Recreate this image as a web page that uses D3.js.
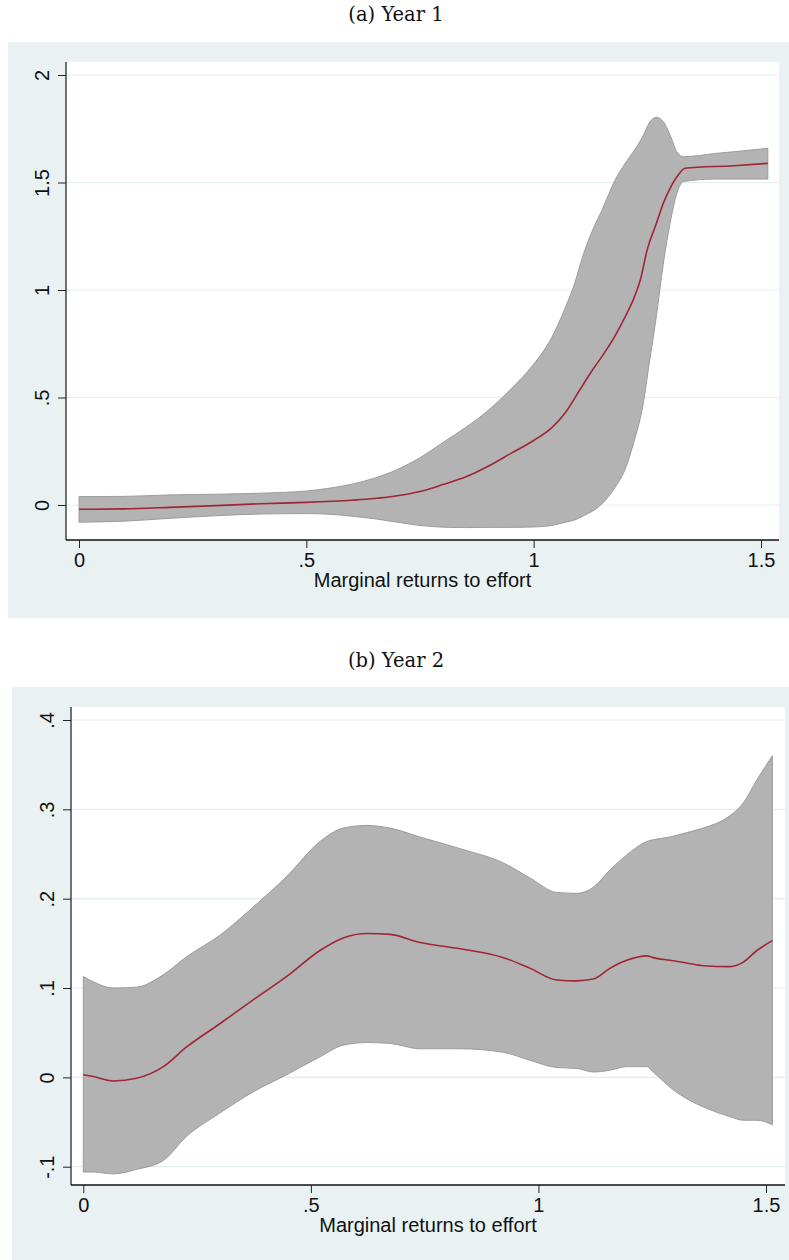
<!DOCTYPE html>
<html><head><meta charset="utf-8">
<script src="https://cdn.jsdelivr.net/npm/d3@7"></script>
<style>
html,body{margin:0;padding:0;background:#fff;}
svg{display:block;}
</style></head>
<body>
<script>
// ---- Panel (a) Year 1 ----
const titleA = "(a) Year 1";
const xBandA = [0, 0.1, 0.2, 0.3, 0.4, 0.5, 0.55, 0.6, 0.65, 0.7, 0.75, 0.8, 0.85, 0.9, 0.95, 1.0, 1.04, 1.07, 1.09, 1.11, 1.13, 1.15, 1.18, 1.2, 1.22, 1.24, 1.255, 1.27, 1.285, 1.3, 1.315, 1.33, 1.4, 1.45, 1.515];
const upperA = [0.039, 0.040, 0.047, 0.050, 0.055, 0.065, 0.078, 0.097, 0.125, 0.165, 0.22, 0.29, 0.36, 0.44, 0.54, 0.655, 0.78, 0.92, 1.03, 1.17, 1.28, 1.37, 1.515, 1.585, 1.645, 1.715, 1.78, 1.803, 1.783, 1.721, 1.643, 1.62, 1.635, 1.645, 1.659];
const lowerA = [-0.08, -0.075, -0.062, -0.05, -0.042, -0.04, -0.043, -0.052, -0.064, -0.08, -0.095, -0.103, -0.105, -0.104, -0.104, -0.102, -0.095, -0.08, -0.07, -0.05, -0.028, 0.005, 0.085, 0.16, 0.29, 0.46, 0.67, 0.88, 1.12, 1.31, 1.45, 1.505, 1.516, 1.516, 1.516];
const xFitA = [0, 0.1, 0.2, 0.3, 0.4, 0.5, 0.6, 0.65, 0.7, 0.75, 0.78, 0.8, 0.85, 0.9, 0.95, 1.0, 1.04, 1.07, 1.1, 1.13, 1.15, 1.18, 1.2, 1.22, 1.235, 1.25, 1.27, 1.285, 1.3, 1.318, 1.333, 1.44, 1.515];
const fitA = [-0.02, -0.018, -0.011, -0.003, 0.006, 0.012, 0.022, 0.03, 0.043, 0.063, 0.08, 0.095, 0.13, 0.18, 0.24, 0.30, 0.36, 0.43, 0.53, 0.63, 0.69, 0.79, 0.87, 0.96, 1.05, 1.19, 1.31, 1.403, 1.473, 1.535, 1.566, 1.578, 1.589];
const yTicksA = [0, 0.5, 1, 1.5, 2];
const yTickLabelsA = ["0", ".5", "1", "1.5", "2"];

// ---- Panel (b) Year 2 ----
const titleB = "(b) Year 2";
const xBandB = [0, 0.022, 0.066, 0.117, 0.176, 0.227, 0.3, 0.374, 0.447, 0.52, 0.571, 0.623, 0.674, 0.74, 0.828, 0.923, 0.982, 1.04, 1.084, 1.121, 1.157, 1.194, 1.238, 1.252, 1.289, 1.326, 1.362, 1.421, 1.45, 1.48, 1.514];
const upperB = [0.113, 0.107, 0.100, 0.101, 0.115, 0.135, 0.159, 0.191, 0.225, 0.264, 0.279, 0.282, 0.279, 0.269, 0.256, 0.24, 0.223, 0.207, 0.206, 0.213, 0.232, 0.249, 0.264, 0.266, 0.269, 0.274, 0.279, 0.293, 0.307, 0.333, 0.36];
const lowerB = [-0.106, -0.106, -0.108, -0.103, -0.093, -0.066, -0.04, -0.016, 0.003, 0.023, 0.036, 0.039, 0.038, 0.032, 0.032, 0.028, 0.019, 0.011, 0.01, 0.006, 0.008, 0.012, 0.012, 0.006, -0.011, -0.024, -0.033, -0.044, -0.048, -0.048, -0.053];
const fitB = [0.003, 0.001, -0.004, -0.001, 0.012, 0.034, 0.06, 0.087, 0.113, 0.142, 0.156, 0.161, 0.16, 0.151, 0.144, 0.134, 0.122, 0.109, 0.108, 0.11, 0.122, 0.131, 0.136, 0.134, 0.131, 0.128, 0.125, 0.124, 0.129, 0.142, 0.153];
const yTicksB = [-0.1, 0, 0.1, 0.2, 0.3, 0.4];
const yTickLabelsB = ["-.1", "0", ".1", ".2", ".3", ".4"];

const xTicks = [0, 0.5, 1, 1.5];
const xTickLabels = ["0", ".5", "1", "1.5"];
const xTitle = "Marginal returns to effort";

const W = 789, H = 1260;
const svg = d3.select("body").append("svg").attr("width", W).attr("height", H);

const BG = "#e9f1f3", GRID = "#e3edf0", BAND = "#b3b3b3", BANDSTROKE = "#9c9c9c", LINE = "#a02535";
const SANS = "'Liberation Sans', Arial, sans-serif", FS = "20px";

function panel(o) {
  const g = svg.append("g");
  g.append("text").attr("x", 396).attr("y", o.titleY)
    .attr("text-anchor", "middle")
    .style("font-family", "'DejaVu Serif', serif").style("font-size", "19.5px")
    .attr("fill", "#111").text(o.title);
  g.append("rect").attr("x", o.bg[0]).attr("y", o.bg[1]).attr("width", o.bg[2] - o.bg[0]).attr("height", o.bg[3] - o.bg[1]).attr("fill", BG);
  g.append("rect").attr("x", o.plot[0]).attr("y", o.plot[1]).attr("width", o.plot[2] - o.plot[0]).attr("height", o.plot[3] - o.plot[1]).attr("fill", "#fff");

  const x = d3.scaleLinear().domain([0, 1.5]).range(o.xr);
  const y = d3.scaleLinear().domain(o.yd).range(o.yr);

  g.append("g").selectAll("line").data(o.yTicks).join("line")
    .attr("x1", o.plot[0]).attr("x2", o.plot[2])
    .attr("y1", d => y(d)).attr("y2", d => y(d))
    .attr("stroke", GRID).attr("stroke-width", 1.2);

  const band = o.xBand.map((v, i) => ({x: v, lo: o.lower[i], hi: o.upper[i]}));
  const area = d3.area().x(d => x(d.x)).y0(d => y(d.lo)).y1(d => y(d.hi)).curve(d3.curveMonotoneX);
  g.append("path").datum(band).attr("d", area)
    .attr("fill", BAND).attr("stroke", BANDSTROKE).attr("stroke-width", 1);

  const fit = o.xFit.map((v, i) => ({x: v, y: o.fit[i]}));
  const line = d3.line().x(d => x(d.x)).y(d => y(d.y)).curve(d3.curveMonotoneX);
  g.append("path").datum(fit).attr("d", line)
    .attr("fill", "none").attr("stroke", LINE).attr("stroke-width", 1.6);

  const ya = g.append("g").attr("transform", `translate(${o.plot[0]},0)`)
    .call(d3.axisLeft(y).tickValues(o.yTicks).tickFormat((d, i) => o.yTickLabels[i]).tickSize(8).tickSizeOuter(0));
  ya.select(".domain").attr("d", `M0,${o.plot[1]}V${o.plot[3]}`).attr("stroke", "#444").attr("stroke-width", 1.5);
  ya.selectAll(".tick line").attr("stroke", "#222");
  ya.selectAll(".tick text")
    .attr("x", null).attr("dy", null)
    .attr("transform", "translate(-17,0) rotate(-90)")
    .attr("text-anchor", "middle")
    .style("font-family", SANS).style("font-size", FS).attr("fill", "#111");

  const xa = g.append("g").attr("transform", `translate(0,${o.plot[3]})`)
    .call(d3.axisBottom(x).tickValues(xTicks).tickFormat((d, i) => xTickLabels[i]).tickSize(8).tickSizeOuter(0).tickPadding(5));
  xa.select(".domain").attr("d", `M${o.plot[0]},0H${o.plot[2]}`).attr("stroke", "#111").attr("stroke-width", 1.5);
  xa.selectAll(".tick line").attr("stroke", "#222");
  xa.selectAll(".tick text")
    .style("font-family", SANS).style("font-size", FS).attr("fill", "#111");

  g.append("text").attr("x", (o.plot[0] + o.plot[2]) / 2).attr("y", o.xTitleY)
    .attr("text-anchor", "middle")
    .style("font-family", SANS).style("font-size", FS)
    .attr("fill", "#111").text(xTitle);
}

panel({
  title: titleA, titleY: 21,
  bg: [8, 42, 789, 618], plot: [66, 62, 779, 540],
  xr: [79, 761], yd: [0, 2], yr: [505, 75],
  xBand: xBandA, upper: upperA, lower: lowerA, xFit: xFitA, fit: fitA,
  yTicks: yTicksA, yTickLabels: yTickLabelsA, xTitleY: 587
});
panel({
  title: titleB, titleY: 667,
  bg: [12, 687, 789, 1260], plot: [71, 707, 785, 1185],
  xr: [83.3, 766], yd: [-0.1, 0.4], yr: [1166.7, 720],
  xBand: xBandB, upper: upperB, lower: lowerB, xFit: xBandB, fit: fitB,
  yTicks: yTicksB, yTickLabels: yTickLabelsB, xTitleY: 1232
});
</script>
</body></html>
